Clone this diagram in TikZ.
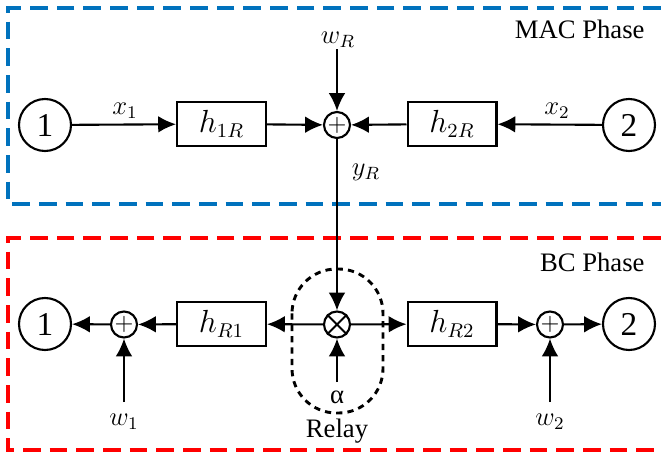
\documentclass[tikz,border=0pt]{standalone}
\usepackage{amsmath}
\usepackage{fontspec}
\setmainfont{Liberation Serif}
\usetikzlibrary{arrows.meta}
\definecolor{macblue}{RGB}{0,114,189}
\definecolor{bcred}{RGB}{255,0,0}

\begin{document}
\begin{tikzpicture}[x=0.45pt,y=-0.45pt,line width=0.95pt,
    font=\rmfamily\fontsize{12}{14}\selectfont,
    >={Latex[length=8pt,width=7.5pt]},
    usernode/.style={draw,circle,minimum size=23.4pt,inner sep=0pt,font=\rmfamily\fontsize{15}{16}\selectfont},
    gainbox/.style={draw,rectangle,minimum width=40pt,minimum height=19.5pt,inner sep=0pt,font=\fontsize{13.5}{15}\selectfont},
    addnode/.style={draw,circle,minimum size=11.7pt,inner sep=0pt,font=\fontsize{10.5}{10}\selectfont},
    phasebox/.style={line width=1.4pt,dash pattern=on 8pt off 4pt}]
  \useasboundingbox (0,0) rectangle (661,457);
  % phase frames
  \draw[phasebox,macblue] (661,8) -- (8,8) -- (8,204) -- (661,204);
  \draw[phasebox,bcred] (661,238) -- (8,238) -- (8,450) -- (661,450);
  \node[anchor=east] (macph) at (653,29) {MAC Phase};
  \node[anchor=east] (bcph) at (653,262) {BC Phase};
  % MAC phase
  \node[usernode] (u1) at (45,125) {1};
  \node[gainbox] (h1R) at (221.5,124) {$h_{1R}$};
  \node[addnode] (sR) at (337,125) {$+$};
  \node[gainbox] (h2R) at (452,124) {$h_{2R}$};
  \node[usernode] (u2) at (629,125) {2};
  \node (wR) at (338,40) {$w_R$};
  \coordinate (wRs) at (337,49);
  \node (x1) at (125,111) {$x_1$};
  \node (x2) at (557,111) {$x_2$};
  \node (yR) at (366,172) {$y_R$};
  \draw[->] (u1) -- (h1R);
  \draw[->] (h1R) -- (sR);
  \draw[->] (u2) -- (h2R);
  \draw[->] (h2R) -- (sR);
  \draw[->] (wRs) -- (sR);
  % BC phase
  \node[usernode] (v1) at (45,324) {1};
  \node[addnode] (p1) at (124,324.5) {$+$};
  \node[gainbox] (hR1) at (221.5,324) {$h_{R1}$};
  \node[addnode] (mix) at (337,324.5) {};
  \draw[line width=0.8pt] (mix.north west) -- (mix.south east)
    (mix.north east) -- (mix.south west);
  \node[gainbox] (hR2) at (452,324) {$h_{R2}$};
  \node[addnode] (p2) at (550,324.5) {$+$};
  \node[usernode] (v2) at (629,324) {2};
  \node (w1) at (124,422) {$w_1$};
  \node (w2) at (550,422) {$w_2$};
  \node (alph) at (337,397) {α};
  \coordinate (w1s) at (124,402);
  \coordinate (w2s) at (550,402);
  \coordinate (als) at (337,382);
  \draw[line width=1.3pt,dash pattern=on 2.8pt off 2.3pt,rounded corners=20pt]
    (292,269) rectangle (383,413);
  \node (relay) at (337,431) {Relay};
  \draw[->] (sR) -- (mix);
  \draw[->] (mix) -- (hR1);
  \draw[->] (hR1) -- (p1);
  \draw[->] (p1) -- (v1);
  \draw[->] (mix) -- (hR2);
  \draw[->] (hR2) -- (p2);
  \draw[->] (p2) -- (v2);
  \draw[->] (w1s) -- (p1);
  \draw[->] (w2s) -- (p2);
  \draw[->] (als) -- (mix);
\end{tikzpicture}
\end{document}
